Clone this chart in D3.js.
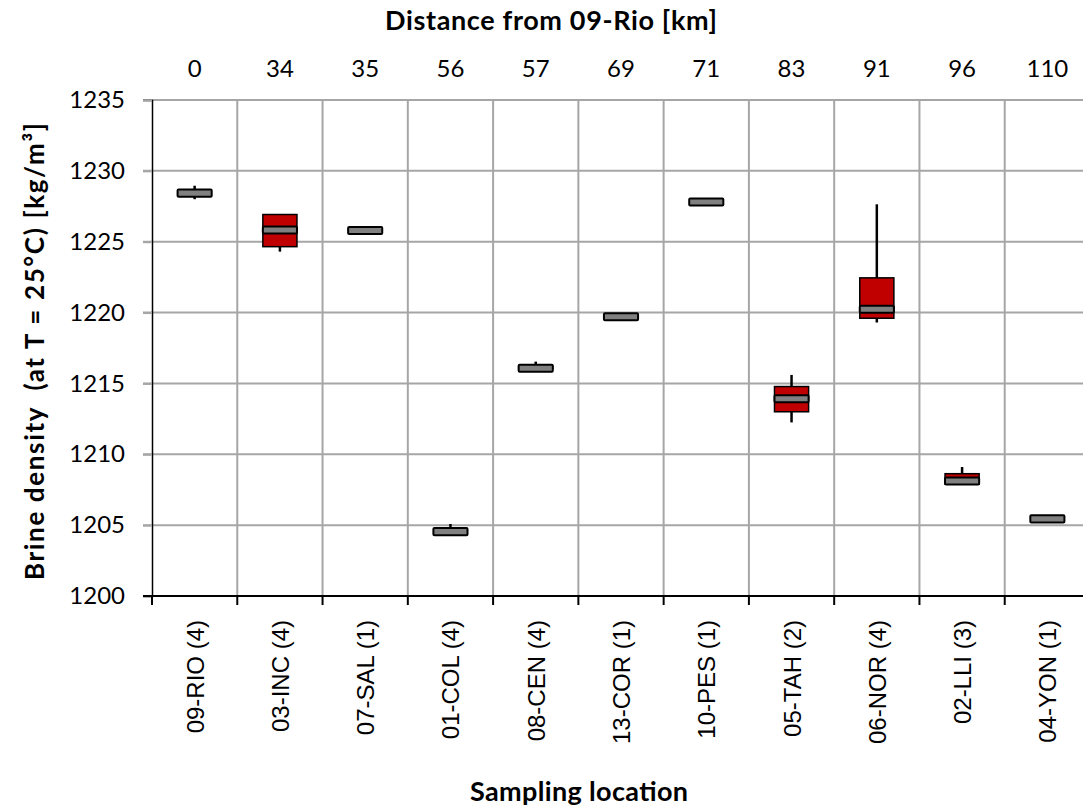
<!DOCTYPE html>
<html>
<head>
<meta charset="utf-8">
<script src="https://cdn.jsdelivr.net/npm/d3@7"></script>
<style>
  html, body { margin: 0; padding: 0; background: #fff; }
  svg { display: block; }
  text { white-space: pre; }
</style>
</head>
<body>
<script>
// ---------- data ----------
const categories = ["09-RIO (4)", "03-INC (4)", "07-SAL (1)", "01-COL (4)", "08-CEN (4)", "13-COR (1)", "10-PES (1)", "05-TAH (2)", "06-NOR (4)", "02-LLI (3)", "04-YON (1)"];
const distances  = [0, 34, 35, 56, 57, 69, 71, 83, 91, 96, 110];
const minVals    = [1228.0, 1224.3, 1225.79, 1204.5, 1216.0, 1219.7, 1227.8, 1212.25, 1219.3, 1207.9, 1205.44];
const q1Vals     = [1228.43, 1224.65, 1225.79, 1204.54, 1216.05, 1219.7, 1227.8, 1213.0, 1219.6, 1207.9, 1205.44];
const medVals    = [1228.43, 1225.83, 1225.79, 1204.54, 1216.07, 1219.7, 1227.8, 1213.92, 1220.23, 1208.12, 1205.44];
const q3Vals     = [1228.43, 1226.92, 1225.79, 1204.54, 1216.2, 1219.7, 1227.8, 1214.78, 1222.45, 1208.63, 1205.44];
const maxVals    = [1228.95, 1226.94, 1225.79, 1205.08, 1216.54, 1219.7, 1227.8, 1215.6, 1227.64, 1209.1, 1205.44];
const yTicks     = [1200, 1205, 1210, 1215, 1220, 1225, 1230, 1235];

const rows = categories.map((c, i) => ({
  cat: c, dist: distances[i], min: minVals[i], q1: q1Vals[i], med: medVals[i], q3: q3Vals[i], max: maxVals[i]
}));

// ---------- layout ----------
const W = 1083, H = 807;
const plot = { left: 152, top: 100, right: 1090, bottom: 596 };
const numFont = "Lato, 'Open Sans', sans-serif";

const svg = d3.select("body").append("svg").attr("width", W).attr("height", H);

const x = d3.scaleBand().domain(categories).range([plot.left, plot.right]).padding(0);
const y = d3.scaleLinear().domain([1200, 1235]).range([plot.bottom, plot.top]);
const bw = x.bandwidth() * 0.4;
const medHalf = 0.25; // half-thickness of median marker in data units (style)

// gridlines
const grid = svg.append("g").attr("stroke", "#a6a6a6").attr("stroke-width", 2);
grid.selectAll("line.h").data(yTicks.filter(t => t !== 1200)).join("line")
  .attr("x1", plot.left - 9).attr("x2", plot.right)
  .attr("y1", d => y(d)).attr("y2", d => y(d));
const bounds = categories.slice(1).map(c => x(c));
grid.selectAll("line.v").data(bounds).join("line")
  .attr("x1", d => d).attr("x2", d => d)
  .attr("y1", plot.top).attr("y2", plot.bottom);

// y axis
const yAxis = svg.append("g").attr("transform", `translate(${plot.left},0)`)
  .call(d3.axisLeft(y).tickValues(yTicks).tickSize(9).tickPadding(18).tickFormat(d3.format("d")));
yAxis.select(".domain").attr("stroke", "#000").attr("stroke-width", 1.5);
yAxis.selectAll(".tick line").attr("stroke", "#a6a6a6").attr("stroke-width", 2);
yAxis.selectAll(".tick text").attr("font-family", numFont).attr("font-size", 24).attr("fill", "#000");

// bottom axis
const xAxis = svg.append("g").attr("transform", `translate(0,${plot.bottom})`);
xAxis.append("line").attr("x1", plot.left - 9).attr("x2", plot.right).attr("y1", 0).attr("y2", 0)
  .attr("stroke", "#000").attr("stroke-width", 2);
xAxis.selectAll("line.tk").data([plot.left].concat(bounds)).join("line")
  .attr("x1", d => d).attr("x2", d => d).attr("y1", 0).attr("y2", 9)
  .attr("stroke", "#000").attr("stroke-width", 2);
xAxis.selectAll("text.cat").data(categories).join("text")
  .attr("transform", d => `translate(${x(d) + x.bandwidth() / 2 + 9},24) rotate(-90)`)
  .attr("text-anchor", "end")
  .attr("font-family", "'Liberation Sans', Arial, sans-serif")
  .attr("font-size", 24)
  .text(d => d);

// top axis labels (distance)
svg.append("g").selectAll("text").data(rows).join("text")
  .attr("x", d => x(d.cat) + x.bandwidth() / 2)
  .attr("y", 77)
  .attr("text-anchor", "middle")
  .attr("font-family", numFont).attr("font-size", 24)
  .text(d => d.dist);

// boxes
const g = svg.append("g");
g.selectAll("line.wh").data(rows).join("line")
  .attr("x1", d => x(d.cat) + x.bandwidth() / 2).attr("x2", d => x(d.cat) + x.bandwidth() / 2)
  .attr("y1", d => y(d.max)).attr("y2", d => y(d.min))
  .attr("stroke", "#000").attr("stroke-width", 2.5);
g.selectAll("rect.box").data(rows.filter(d => d.q3 > d.q1)).join("rect")
  .attr("x", d => x(d.cat) + (x.bandwidth() - bw) / 2).attr("width", bw)
  .attr("y", d => y(d.q3)).attr("height", d => y(d.q1) - y(d.q3))
  .attr("fill", "#c00000").attr("stroke", "#000").attr("stroke-width", 1.5);
g.selectAll("rect.med").data(rows).join("rect")
  .attr("x", d => x(d.cat) + (x.bandwidth() - bw) / 2).attr("width", bw)
  .attr("y", d => y(d.med + medHalf)).attr("height", d => y(d.med - medHalf) - y(d.med + medHalf))
  .attr("fill", "#808080").attr("stroke", "#000").attr("stroke-width", 2).attr("rx", 1);

// titles
svg.append("text").attr("x", 385).attr("y", 30).attr("text-anchor", "start")
  .attr("font-family", numFont).attr("font-weight", "bold").attr("font-size", 27)
  .attr("textLength", 332).attr("lengthAdjust", "spacing")
  .text("Distance from 09-Rio [km]");
svg.append("text").attr("x", 470).attr("y", 801).attr("text-anchor", "start")
  .attr("font-family", numFont).attr("font-weight", "bold").attr("font-size", 27)
  .attr("textLength", 218).attr("lengthAdjust", "spacing")
  .text("Sampling location");
svg.append("text").attr("transform", `translate(44,580) rotate(-90)`)
  .attr("text-anchor", "start")
  .attr("font-family", numFont).attr("font-weight", "bold").attr("font-size", 26)
  .attr("textLength", 457).attr("lengthAdjust", "spacing")
  .text("Brine density  (at T = 25°C) [kg/m³]");
</script>
</body>
</html>
